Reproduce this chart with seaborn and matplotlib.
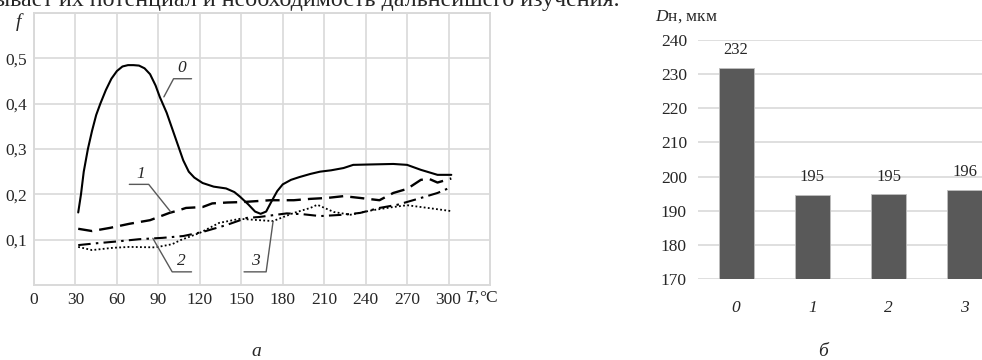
import numpy as np
import pandas as pd
import matplotlib
matplotlib.use("Agg")
import matplotlib.pyplot as plt
import seaborn as sns

# Curve data (a): friction coefficient vs temperature
t0 = [32, 34, 36, 39, 42, 45, 48, 52, 56, 60, 64, 68, 72, 76, 80, 84, 88, 91, 96, 100, 104, 108, 112, 116, 122, 130, 139, 145, 149, 155, 160, 164, 168, 172, 176, 180, 186, 192, 200, 207, 215, 224, 231, 245, 260, 270, 280, 292, 302]
f0 = [0.16, 0.20, 0.25, 0.30, 0.34, 0.375, 0.40, 0.43, 0.455, 0.472, 0.482, 0.485, 0.485, 0.484, 0.478, 0.465, 0.44, 0.415, 0.38, 0.345, 0.31, 0.275, 0.25, 0.237, 0.225, 0.217, 0.213, 0.205, 0.195, 0.178, 0.162, 0.157, 0.162, 0.185, 0.207, 0.222, 0.232, 0.238, 0.245, 0.25, 0.253, 0.258, 0.265, 0.266, 0.267, 0.265, 0.254, 0.243, 0.243]
t1 = [32, 42, 55, 69, 84, 98, 105, 110, 122, 129, 140, 151, 171, 188, 200, 212, 224, 236, 250, 260, 270, 280, 286, 292, 302]
f1 = [0.124, 0.119, 0.126, 0.135, 0.143, 0.159, 0.165, 0.17, 0.172, 0.18, 0.182, 0.183, 0.187, 0.187, 0.19, 0.192, 0.196, 0.192, 0.187, 0.203, 0.212, 0.232, 0.234, 0.226, 0.235]
t2 = [32, 45, 60, 76, 93, 108, 122, 139, 154, 163, 183, 195, 207, 224, 236, 250, 263, 280, 292, 302]
f2 = [0.088, 0.092, 0.096, 0.101, 0.104, 0.108, 0.117, 0.132, 0.148, 0.15, 0.158, 0.156, 0.152, 0.155, 0.159, 0.17, 0.177, 0.192, 0.203, 0.216]
t3 = [32, 42, 57, 69, 88, 100, 106, 120, 134, 149, 163, 173, 188, 200, 205, 217, 229, 245, 260, 270, 285, 302]
f3 = [0.084, 0.077, 0.082, 0.084, 0.083, 0.09, 0.099, 0.115, 0.137, 0.146, 0.143, 0.141, 0.159, 0.17, 0.177, 0.161, 0.155, 0.165, 0.172, 0.176, 0.17, 0.163]

# Bar data (б): diameter
samples = ["0", "1", "2", "3"]
diam = [231.9, 194.6, 194.8, 196.2]

sns.set_theme(style="white")
plt.rcParams["font.family"] = ["Liberation Serif", "DejaVu Serif"]
plt.rcParams["mathtext.fontset"] = "custom"
plt.rcParams["mathtext.it"] = "Liberation Serif:italic"
plt.rcParams["mathtext.rm"] = "Liberation Serif"

fs = 12.5
grid_c = "#d9d9d9"
fig = plt.figure(figsize=(9.82, 3.6), dpi=100)

# ---------- left chart ----------
ax = fig.add_axes([34 / 982, 1 - 285 / 360, (490 - 34) / 982, (285 - 13) / 360])
curves = [(t0, f0, "-", 1.5), (t1, f1, (0, (6, 3)), 1.7),
          (t2, f2, (0, (6, 2.5, 1.2, 2.5)), 1.5), (t3, f3, (0, (1, 1.3)), 1.3)]
for t, f, ls, lw in curves:
    sns.lineplot(x=t, y=f, ax=ax, color="black", linestyle=ls, linewidth=lw)
ax.set_xlim(0, 330)
ax.set_ylim(0, 0.6)
ax.set_xticks(range(0, 301, 30))
ax.set_xticklabels([str(v) for v in range(0, 301, 30)], fontsize=fs)
ax.set_yticks([0.1, 0.2, 0.3, 0.4, 0.5, 0.6])
ax.set_yticklabels(["0,1", "0,2", "0,3", "0,4", "0,5", ""], fontsize=fs)
ax.grid(True, color=grid_c, linewidth=1.2)
for s in ax.spines.values():
    s.set_color(grid_c)
    s.set_linewidth(1.4)
ax.tick_params(length=0, pad=5)
ax.set_xlabel("")
ax.set_ylabel("")
ax.text(-0.035, 0.965, "f", transform=ax.transAxes, fontsize=14, style="italic", ha="center", va="center")
ax.text(312, -0.045, "$\\mathit{T}$,°C", transform=ax.get_xaxis_transform(), fontsize=fs,
        ha="left", va="center")

# curve labels with leader lines
lead = "#595959"
ax.plot([94, 101, 114], [0.415, 0.455, 0.455], color=lead, lw=1)
ax.text(107, 0.478, "0", style="italic", fontsize=12.5, ha="center", va="center")
ax.plot([69, 83, 99], [0.222, 0.222, 0.161], color=lead, lw=1)
ax.text(77, 0.245, "1", style="italic", fontsize=12.5, ha="center", va="center")
ax.plot([86, 100, 114], [0.103, 0.029, 0.029], color=lead, lw=1)
ax.text(107, 0.052, "2", style="italic", fontsize=12.5, ha="center", va="center")
ax.plot([152, 168, 173], [0.029, 0.029, 0.140], color=lead, lw=1)
ax.text(160, 0.052, "3", style="italic", fontsize=12.5, ha="center", va="center")

# ---------- right chart ----------
bx = fig.add_axes([698 / 982, 1 - 279 / 360, (1003 - 698) / 982, (279 - 40) / 360])
df = pd.DataFrame({"sample": samples, "d": diam})
sns.barplot(data=df, x="sample", y="d", ax=bx, color="#595959", width=0.46,
            saturation=1, edgecolor="#bfbfbf", linewidth=0.6)
bx.set_ylim(170, 240)
bx.set_xlim(-0.5, 3.5)
bx.set_yticks(range(170, 241, 10))
bx.set_yticklabels([str(v) for v in range(170, 241, 10)], fontsize=fs)
bx.set_xticklabels(samples, fontsize=fs, style="italic")
bx.grid(True, axis="y", color=grid_c, linewidth=1.2)
bx.set_axisbelow(True)
for s in bx.spines.values():
    s.set_visible(False)
bx.tick_params(axis="y", length=0, pad=8)
bx.tick_params(axis="x", length=0, pad=15)
bx.set_xlabel("")
bx.set_ylabel("")
for c in bx.containers:
    bx.bar_label(c, fmt="%.0f", padding=7, fontsize=12)
fig.text(655 / 982, 1 - 17 / 360, "$\\mathit{D}$н, мкм", fontsize=fs, ha="left", va="center")

# captions and cut-off page text
fig.text(256 / 982, 1 - 352 / 360, "а", fontsize=14, style="italic", ha="center", va="center")
fig.text(823 / 982, 1 - 352 / 360, "б", fontsize=14, style="italic", ha="center", va="center")
fig.text(-6 / 982, 1 - 6 / 360, "ывает их потенциал и необходимость дальнейшего изучения.",
         fontsize=17.3, ha="left", va="baseline")

fig.savefig("out.png", dpi=100)
